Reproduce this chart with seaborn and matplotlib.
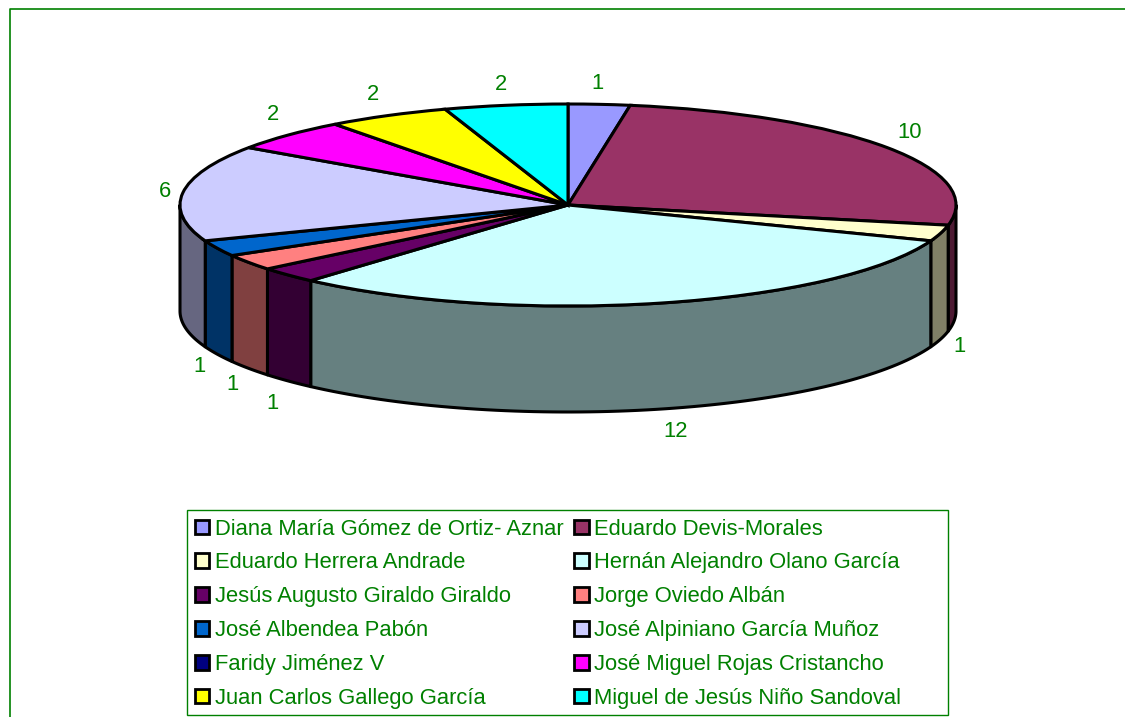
import numpy as np
import matplotlib
matplotlib.use("Agg")
import matplotlib.pyplot as plt
from matplotlib.patches import Patch, Polygon, Rectangle
from matplotlib.colors import to_rgb
import seaborn as sns

names = ["Diana María Gómez de Ortiz- Aznar", "Eduardo Devis-Morales",
         "Eduardo Herrera Andrade", "Hernán Alejandro Olano García",
         "Jesús Augusto Giraldo Giraldo", "Jorge Oviedo Albán",
         "José Albendea Pabón", "José Alpiniano García Muñoz",
         "Faridy Jiménez V", "José Miguel Rojas Cristancho",
         "Juan Carlos Gallego García", "Miguel de Jesús Niño Sandoval"]
values = [1, 10, 1, 12, 1, 1, 1, 6, 0, 2, 2, 2]
colors = ["#9999FF", "#993366", "#FFFFCC", "#CCFFFF", "#660066", "#FF8080",
          "#0066CC", "#CCCCFF", "#000080", "#FF00FF", "#FFFF00", "#00FFFF"]
label_nudge = [(-4, 1), (0, -3), (-7, 1), (8, 1), (4, 7), (6, 4), (7, 3),
               (9, 1), (0, 0), (4, -5), (-2, -1), (0, 1)]

GREEN = "#008000"
W, H = 1125, 717
CX, CY, RX, RY, DEPTH = 568, 205, 388, 101, 106
FS = 15.8

sns.set_theme(style="white", rc={"font.family": ["Liberation Sans", "DejaVu Sans"]})
fig = plt.figure(figsize=(W / 100, H / 100), dpi=100, facecolor="white")

bg = fig.add_axes([0, 0, 1, 1])
bg.set_xlim(0, W)
bg.set_ylim(H, 0)
bg.axis("off")
bg.plot([9.5, 9.5, W], [H, 8.5, 8.5], color=GREEN, lw=1.2, solid_capstyle="butt")
bg.add_patch(Rectangle((187, 510), 761, 205, fc="white", ec=GREEN, lw=1.0))

depth_u = DEPTH / RY
pad = 0.05
x0, x1 = -1 - pad, 1 + pad
y0, y1 = -1 - depth_u - pad, 1 + pad
ax = fig.add_axes([(CX + x0 * RX) / W, 1 - (CY - y0 * RY) / H,
                   (x1 - x0) * RX / W, (y1 - y0) * RY / H])
ax.patch.set_alpha(0)

vals = np.array(values, float)
edges = np.concatenate([[0], np.cumsum(vals)]) / vals.sum() * 360

for i, c in enumerate(colors):
    a, b = max(edges[i], 90), min(edges[i + 1], 270)
    if b <= a:
        continue
    t = np.radians(np.linspace(a, b, 80))
    xs, ys = np.sin(t), np.cos(t)
    pts = np.r_[np.c_[xs, ys], np.c_[xs[::-1], ys[::-1] - depth_u]]
    ax.add_patch(Polygon(pts, closed=True, fc=tuple(0.5 * v for v in to_rgb(c)),
                         ec="black", lw=2.2, joinstyle="round", zorder=1))

nz = vals > 0
ax.pie(vals[nz], colors=[c for c, k in zip(colors, nz) if k], startangle=90,
       counterclock=False, radius=1,
       wedgeprops=dict(edgecolor="black", linewidth=2.2, zorder=2))
ax.set_aspect("auto")
ax.set_xlim(x0, x1)
ax.set_ylim(y0, y1)
ax.axis("off")

KX, KY = 1.07, 1.22
for i, v in enumerate(values):
    if v == 0:
        continue
    m = np.radians((edges[i] + edges[i + 1]) / 2)
    front = np.cos(m) < 0
    px = CX + RX * KX * np.sin(m) + label_nudge[i][0]
    py = CY - RY * KY * np.cos(m) + (DEPTH if front else 0) + label_nudge[i][1]
    bg.text(px, py, str(v), color=GREEN, fontsize=FS, ha="center", va="center")

handles = [Patch(fc=c, ec="black", lw=2.0) for c in colors]
order = list(range(0, 12, 2)) + list(range(1, 12, 2))
leg = fig.legend([handles[i] for i in order], [names[i] for i in order], ncol=2,
                 loc="lower left", bbox_to_anchor=(187 / W, 1 - 716.7 / H),
                 bbox_transform=fig.transFigure, borderaxespad=0,
                 prop={"size": FS, "family": "Liberation Sans"},
                 labelcolor=GREEN, frameon=False,
                 handlelength=0.66, handleheight=0.66,
                 handletextpad=0.25, columnspacing=0.5, labelspacing=0.585,
                 borderpad=0.36)

fig.savefig("out.png", dpi=100)
